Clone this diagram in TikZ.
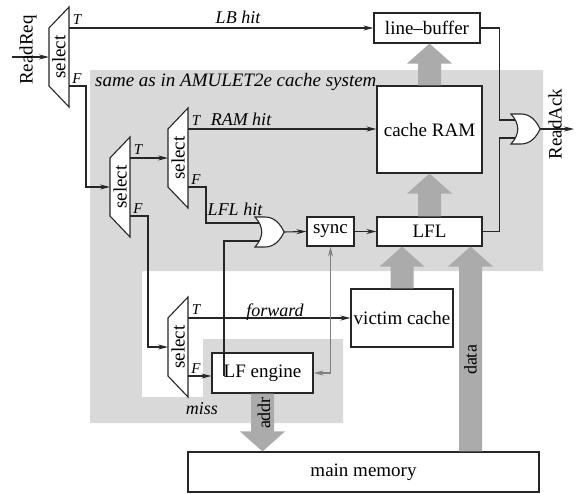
\documentclass[tikz,border=0pt]{standalone}
\usepackage{fontspec}
\setmainfont{Liberation Serif}
\usetikzlibrary{arrows.meta,calc}

\tikzset{
  wire/.style={draw=black!85, line width=1.1pt},
  sig/.style={wire, -{Stealth[length=10pt,width=5pt]}},
  unit/.style={draw=black!85, line width=1.1pt, fill=white, inner sep=0pt},
  hit/.style={font=\fontsize{18}{20}\selectfont\itshape, inner sep=0pt},
  tf/.style={font=\fontsize{15}{17}\selectfont\itshape, inner sep=0pt},
  fatgray/.style={fill=black!33},
  selmux/.pic={
    \draw[wire, fill=white] (0,-29) -- (20,-50) -- (20,50) -- (0,29) -- cycle;
    \node[rotate=90, inner sep=0pt] (-sel) at (10,0) {select};
    \coordinate (-in) at (0,0);
    \coordinate (-t) at (20,-29);
    \coordinate (-f) at (20,29);
    \node[tf] (-tl) at (28,-37) {T};
    \node[tf] (-fl) at (28,22) {F};
  },
  orgate/.pic={
    \draw[wire, fill=white] (0,-15) -- (10,-15) .. controls (20,-15) and (26,-7) .. (29,0)
      .. controls (26,7) and (20,15) .. (10,15) -- (0,15) .. controls (9,5) and (9,-5) .. (0,-15) -- cycle;
    \coordinate (-a) at (4.3,-9);
    \coordinate (-b) at (4.3,9);
    \coordinate (-out) at (29,0);
  }
}

% fat data arrow: tail anchor, tip anchor, head base offset
\newcommand{\fatarrow}[3]{%
  \fill[fatgray] ($(#1)+(-11.5,0)$) -- ($(#1 |- #2)+(-11.5,#3)$) -- ($(#1 |- #2)+(-22.5,#3)$)
    -- (#1 |- #2) -- ($(#1 |- #2)+(22.5,#3)$) -- ($(#1 |- #2)+(11.5,#3)$) -- ($(#1)+(11.5,0)$) -- cycle;}

\begin{document}
\begin{tikzpicture}[x=1pt, y=-1pt, font=\fontsize{19}{22}\selectfont]
\useasboundingbox (0,0) rectangle (576,493);
% cache system area
\fill[black!15] (90,70) -- (543,70) -- (543,271) -- (142,271) -- (142,397) -- (203,397)
  -- (203,339) -- (343,339) -- (343,423) -- (90,423) -- cycle;
\node[anchor=base west, inner sep=0pt, font=\fontsize{19}{22}\selectfont\itshape] (same) at (95,86)
  {same as in AMULET2e cache system};

% units
\node[unit, minimum width=106, minimum height=30] (lb) at (427,28) {line--buffer};
\node[unit, minimum width=105, minimum height=87] (ram) at (429.5,129.5) {cache RAM};
\node[unit, minimum width=47, minimum height=29] (sync) at (330.5,231.5) {sync};
\node[unit, minimum width=105, minimum height=29] (lfl) at (429.5,231.5) {LFL};
\node[unit, minimum width=102, minimum height=58] (vc) at (402,318) {victim cache};
\node[unit, minimum width=101, minimum height=40] (lfe) at (262.5,373) {LF engine};
\node[unit, minimum width=351, minimum height=40] (mm) at (363.5,472) {main memory};

% data paths
\coordinate (dtail) at ($(mm.north)+(107,0)$);
\fatarrow{vc.north}{lfl.south}{20}
\fatarrow{dtail}{lfl.south}{20}
\fatarrow{lfl.north}{ram.south}{20}
\fatarrow{ram.north}{lb.south}{20}
\fatarrow{lfe.south}{mm.north}{-20}
\node[rotate=90, inner sep=0pt, font=\fontsize{18}{20}\selectfont] (data) at (470.5,360) {data};
\node[rotate=90, inner sep=0pt, font=\fontsize{18}{20}\selectfont] (addr) at (264,413) {addr};

% selectors and gates
\pic (s1) at (49,57) {selmux};
\pic (s2) at (110,187) {selmux};
\pic (s3) at (168,158) {selmux};
\pic (s4) at (168,347) {selmux};
\pic (or1) at (255,232) {orgate};
\pic (or2) at (511,129) {orgate};

% control wires
\coordinate (req) at ($(s1-in)+(-37,0)$);
\draw[sig] (req) -- (s1-in);
\node[rotate=90, inner sep=0pt] (rreq) at (28,50) {ReadReq};
\draw[sig] (s1-t) -- (s1-t -| lb.west);
\draw[sig] (s1-f) -- ++(17,0) |- (s2-in);
\draw[sig] (s2-t) -- (s3-in);
\draw[sig] (s2-f) -- ++(18,0) |- (s4-in);
\draw[sig] (s3-t) -- (s3-t -| ram.west);
\draw[wire] (s3-f) -- ++(18,0) |- (or1-a);
\draw[sig] (s4-t) -- (s4-t -| vc.west);
\draw[sig] (s4-f) -- (s4-f -| lfe.west);
\coordinate (misstap) at ($(s4-f)+(36,0)$);
\draw[wire] (misstap) |- (or1-b);
\draw[sig] (or1-out) -- (sync.west);
\draw[sig] (sync.east) -- (lfl.west);
\draw[draw=black!50, line width=1.1pt, {Stealth[length=10pt,width=5pt]}-{Stealth[length=10pt,width=5pt]}]
  (sync.south) |- (lfe.east);
\coordinate (ackbus) at ($(lfl.east)+(17,0)$);
\draw[wire] (lfl.east) -- (ackbus) |- (or2-b);
\draw[wire] (lb.east) -- (lb.east -| ackbus) |- (or2-a);
\coordinate (ack) at ($(or2-out)+(34,0)$);
\draw[sig] (or2-out) -- (ack);
\node[rotate=90, inner sep=0pt] (rack) at (555,124) {ReadAck};

% signal labels
\node[hit] (lbhit) at (238,17) {LB hit};
\node[hit] (ramhit) at (241,119) {RAM hit};
\node[hit] (lflhit) at (235,209) {LFL hit};
\node[hit] (fwd) at (275,312) {forward};
\node[hit] (miss) at (202,409) {miss};
\end{tikzpicture}
\end{document}
